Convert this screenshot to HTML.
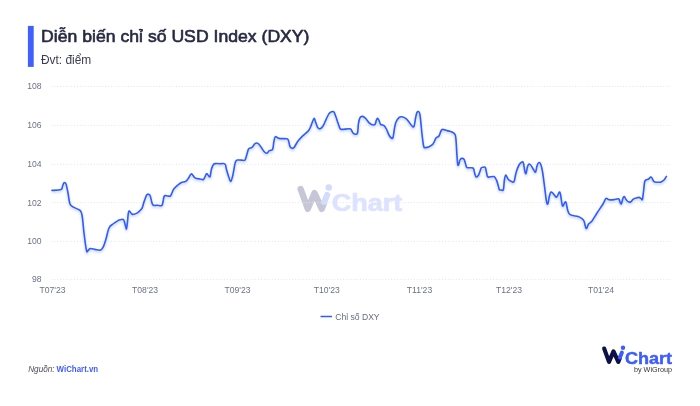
<!DOCTYPE html>
<html><head><meta charset="utf-8"><title>USD Index</title>
<style>
html,body{margin:0;padding:0;background:#fff;}
body{width:700px;height:406px;overflow:hidden;font-family:"Liberation Sans",sans-serif;}
svg{display:block;font-family:"Liberation Sans",sans-serif;will-change:transform;opacity:0.999;}
</style></head><body>
<svg width="700" height="406" viewBox="0 0 700 406">
<defs>
<filter id="glow" x="-5%" y="-20%" width="110%" height="150%"><feGaussianBlur stdDeviation="1.2"/></filter>
</defs>
<rect x="27.9" y="25.9" width="5.8" height="41" fill="#3f5fff"/>
<text x="41.1" y="42.3" font-size="17.3" fill="#262a42" stroke="#262a42" stroke-width="0.62" stroke-linejoin="round" textLength="268.4" lengthAdjust="spacingAndGlyphs">Diễn biến chỉ số USD Index (DXY)</text>
<text x="41" y="64.2" font-size="11.9" fill="#3a3d50">Đvt: điểm</text>
<g transform="translate(294.3,176.6) scale(1.5)">
<path d="M4.2,8.2 L9,21.5 L13.5,11 L18.3,21.5 L19.9,17.3" fill="none" stroke="#c6c7d6" stroke-width="4.2" stroke-linecap="round" stroke-linejoin="round"/>
<path d="M19.9,17 L21.9,12.2" fill="none" stroke="#d3dbff" stroke-width="4" stroke-linecap="round"/>
<circle cx="23" cy="7.3" r="2.2" fill="#d3dbff"/>
<text x="24.9" y="23.2" font-size="16" font-weight="bold" textLength="47.1" lengthAdjust="spacingAndGlyphs" fill="#dde3ff" stroke="#dde3ff" stroke-width="0.45" stroke-linejoin="round">Chart</text>
</g>
<g stroke="#e2e4ea" stroke-width="1" stroke-dasharray="1 1.83"><line x1="51.5" x2="671.5" y1="86.4" y2="86.4"/><line x1="51.5" x2="671.5" y1="125.4" y2="125.4"/><line x1="51.5" x2="671.5" y1="164.4" y2="164.4"/><line x1="51.5" x2="671.5" y1="202.6" y2="202.6"/><line x1="51.5" x2="671.5" y1="241.4" y2="241.4"/><line x1="51.5" x2="671.5" y1="279.4" y2="279.4"/></g>
<g font-size="8.6" fill="#6b7389"><text x="41.5" y="89.4" text-anchor="end">108</text><text x="41.5" y="128.4" text-anchor="end">106</text><text x="41.5" y="167.4" text-anchor="end">104</text><text x="41.5" y="205.6" text-anchor="end">102</text><text x="41.5" y="244.4" text-anchor="end">100</text><text x="41.5" y="282.4" text-anchor="end">98</text><text x="52.5" y="292.8" text-anchor="middle">T07'23</text><text x="145.1" y="292.8" text-anchor="middle">T08'23</text><text x="237.5" y="292.8" text-anchor="middle">T09'23</text><text x="326.8" y="292.8" text-anchor="middle">T10'23</text><text x="419.5" y="292.8" text-anchor="middle">T11'23</text><text x="509.0" y="292.8" text-anchor="middle">T12'23</text><text x="601.0" y="292.8" text-anchor="middle">T01'24</text></g>
<path d="M52.0,190.4C53.5,190.3 59.2,190.3 61.0,189.6C62.8,188.9 62.1,187.1 62.6,186.0C63.1,184.9 63.4,183.1 64.0,182.8C64.6,182.5 65.3,182.3 66.0,184.0C66.7,185.7 67.3,189.7 68.0,193.0C68.7,196.3 69.0,201.6 70.0,204.0C71.0,206.4 72.3,206.3 74.0,207.4C75.7,208.5 78.7,209.1 80.0,210.4C81.3,211.7 81.3,211.2 82.0,215.0C82.7,218.8 83.3,227.2 84.0,233.0C84.7,238.8 85.8,247.0 86.4,250.0C87.0,253.0 87.0,251.4 87.6,251.2C88.2,251.0 88.8,248.9 90.0,248.6C91.2,248.3 93.3,249.1 95.0,249.4C96.7,249.7 98.7,250.5 100.0,250.2C101.3,249.9 102.0,249.3 103.0,247.4C104.0,245.5 105.0,242.2 106.0,239.0C107.0,235.8 107.8,230.5 109.0,228.0C110.2,225.5 111.5,225.2 113.0,224.0C114.5,222.8 116.7,221.3 118.0,220.6C119.3,219.9 119.9,219.9 120.8,219.7C121.7,219.5 122.8,219.1 123.5,219.6C124.2,220.1 124.3,221.6 124.7,222.9C125.1,224.2 125.6,226.6 125.9,227.6C126.2,228.6 126.3,229.5 126.5,228.8C126.7,228.2 127.0,226.0 127.3,223.7C127.6,221.4 127.9,217.0 128.1,215.0C128.3,213.0 128.5,212.5 128.7,211.8C128.9,211.1 129.1,210.9 129.4,211.0C129.7,211.1 130.1,212.0 130.6,212.5C131.1,213.0 131.6,213.9 132.2,214.2C132.8,214.5 133.5,214.3 134.2,214.2C134.9,214.1 135.7,213.8 136.5,213.4C137.3,213.0 138.1,212.4 138.9,211.7C139.7,211.0 140.7,210.1 141.3,209.3C141.9,208.5 142.1,208.1 142.5,207.1C142.9,206.1 143.2,204.4 143.6,203.2C144.0,202.0 144.1,201.4 144.7,200.0C145.3,198.6 146.1,195.4 147.0,194.6C147.9,193.8 149.2,194.0 150.0,195.4C150.8,196.8 151.4,201.3 152.0,203.0C152.6,204.7 152.5,204.9 153.4,205.3C154.3,205.7 156.1,205.3 157.5,205.3C158.9,205.3 160.9,206.6 162.0,205.2C163.1,203.8 163.4,198.2 164.0,196.6C164.6,195.0 164.7,195.7 165.4,195.6C166.1,195.5 167.1,196.0 168.0,196.0C168.9,196.0 169.8,196.8 170.7,195.7C171.6,194.6 172.4,191.1 173.6,189.3C174.8,187.5 176.6,186.2 177.9,185.0C179.2,183.8 180.1,183.0 181.4,182.4C182.7,181.8 184.5,182.2 185.7,181.4C186.9,180.7 187.6,179.2 188.6,177.9C189.6,176.7 190.3,173.9 191.4,173.9C192.5,173.9 193.6,177.1 195.0,177.9C196.4,178.8 198.6,178.8 200.0,179.0C201.4,179.2 202.5,180.2 203.6,179.3C204.7,178.5 205.7,174.6 206.4,173.9C207.1,173.2 207.4,174.5 208.0,175.0C208.6,175.5 209.4,177.6 210.0,176.7C210.6,175.8 210.8,171.4 211.4,169.3C212.0,167.2 212.9,165.2 213.6,164.3C214.3,163.4 214.6,163.7 215.7,163.6C216.8,163.5 218.4,163.6 220.0,163.7C221.6,163.8 223.9,163.1 225.0,164.0C226.1,164.9 225.8,167.2 226.4,169.3C227.0,171.4 227.9,174.4 228.6,176.4C229.3,178.4 230.0,181.6 230.7,181.4C231.4,181.2 232.2,178.0 232.9,175.0C233.6,172.0 234.4,166.0 235.0,163.6C235.6,161.2 235.9,161.0 236.4,160.4C236.9,159.8 237.2,160.1 238.0,160.0C238.8,159.9 240.3,160.1 241.5,160.1C242.7,160.1 244.1,161.0 245.0,160.0C245.9,159.0 246.4,155.8 247.0,154.0C247.6,152.2 247.8,150.1 248.6,149.0C249.4,147.9 250.9,148.3 252.0,147.4C253.1,146.5 254.0,144.3 255.0,143.6C256.0,142.9 257.0,142.8 258.0,143.4C259.0,144.0 260.0,145.7 261.0,147.0C262.0,148.3 263.1,150.4 264.0,151.4C264.9,152.4 265.7,153.3 266.6,153.2C267.5,153.1 268.4,151.2 269.4,150.6C270.4,150.0 271.8,151.0 272.6,149.4C273.4,147.8 273.5,143.1 274.0,141.0C274.5,138.9 274.6,137.0 275.4,136.6C276.2,136.2 277.1,138.0 279.0,138.4C280.9,138.8 285.4,138.4 287.0,138.8C288.6,139.2 288.1,139.7 288.6,141.0C289.1,142.3 289.4,145.4 290.0,146.6C290.6,147.8 291.3,148.0 292.0,148.2C292.7,148.4 293.0,148.8 294.0,147.6C295.0,146.4 296.5,143.0 298.0,141.0C299.5,139.0 301.2,137.4 303.0,135.6C304.8,133.8 307.5,132.1 309.0,130.0C310.5,127.9 311.2,124.9 312.0,123.0C312.8,121.1 313.4,118.6 314.0,118.4C314.6,118.2 315.0,120.5 315.6,122.0C316.2,123.5 316.9,126.3 317.6,127.4C318.3,128.5 319.1,129.0 320.0,128.8C320.9,128.6 322.0,127.5 323.0,126.0C324.0,124.5 325.0,121.7 326.0,119.6C327.0,117.5 328.1,114.9 329.0,113.6C329.9,112.3 330.8,112.0 331.6,111.7C332.4,111.4 333.3,111.1 334.0,112.0C334.7,112.9 335.3,115.2 336.0,117.0C336.7,118.8 337.3,121.1 338.0,123.0C338.7,124.9 339.3,127.3 340.0,128.4C340.7,129.5 340.3,129.3 342.0,129.4C343.7,129.5 348.3,128.4 350.0,128.8C351.7,129.2 351.7,131.2 352.4,132.0C353.1,132.8 353.2,133.6 354.0,133.8C354.8,134.0 356.7,135.0 357.4,133.4C358.1,131.8 358.0,126.6 358.4,124.0C358.8,121.4 359.3,118.9 360.0,117.6C360.7,116.3 361.7,116.3 362.6,116.4C363.5,116.5 364.5,117.4 365.6,118.4C366.7,119.4 368.0,121.6 369.0,122.6C370.0,123.6 370.6,124.3 371.6,124.6C372.6,124.9 374.2,125.2 375.0,124.4C375.8,123.6 376.0,121.0 376.4,120.0C376.8,119.0 377.2,118.3 377.6,118.4C378.0,118.5 378.5,119.4 379.0,120.4C379.5,121.4 379.8,123.5 380.6,124.4C381.4,125.3 383.0,124.8 384.0,125.6C385.0,126.4 385.6,127.4 386.4,129.0C387.2,130.6 388.2,133.5 389.0,135.0C389.8,136.5 390.7,137.6 391.4,138.0C392.1,138.4 392.5,139.1 393.0,137.6C393.5,136.1 393.9,131.6 394.4,129.0C394.9,126.4 395.2,123.9 396.0,122.0C396.8,120.1 398.0,118.5 399.0,117.6C400.0,116.7 400.8,116.6 402.0,116.8C403.2,117.0 404.8,117.7 406.0,118.6C407.2,119.5 408.0,120.8 409.0,122.0C410.0,123.2 411.2,125.3 412.0,126.0C412.8,126.7 413.4,127.7 414.0,126.4C414.6,125.1 415.1,120.3 415.6,118.0C416.1,115.7 416.5,113.5 417.0,112.4C417.5,111.4 418.1,111.3 418.6,111.7C419.1,112.1 419.4,111.3 420.0,115.0C420.6,118.7 421.4,128.8 422.0,134.0C422.6,139.2 423.1,143.7 423.6,146.0C424.1,148.3 424.1,147.5 425.0,147.6C425.9,147.7 427.7,147.4 429.0,146.8C430.3,146.2 431.8,145.5 433.0,144.0C434.2,142.5 435.0,139.3 436.0,138.0C437.0,136.7 438.2,137.2 439.0,136.0C439.8,134.8 440.4,132.1 441.0,131.0C441.6,129.9 441.6,129.5 442.6,129.4C443.6,129.3 445.4,130.2 447.0,130.6C448.6,131.0 450.7,131.4 452.0,132.0C453.3,132.6 454.3,133.1 455.0,134.4C455.7,135.7 455.7,136.4 456.0,140.0C456.3,143.6 456.7,151.8 457.0,156.0C457.3,160.2 457.5,164.7 458.0,165.4C458.5,166.1 459.4,161.2 460.0,160.0C460.6,158.8 460.9,158.5 461.6,158.4C462.3,158.3 463.3,158.3 464.0,159.2C464.7,160.1 465.1,162.6 465.6,164.0C466.1,165.4 465.8,166.9 467.0,167.6C468.2,168.3 471.7,167.1 473.0,168.0C474.3,168.9 474.1,171.5 474.6,173.0C475.1,174.5 475.5,176.7 476.2,177.0C476.9,177.3 477.9,176.2 478.6,175.0C479.3,173.8 480.1,170.8 480.6,169.5C481.1,168.2 481.1,167.9 481.6,167.5C482.1,167.1 482.9,167.2 483.5,167.2C484.1,167.2 484.9,166.5 485.4,167.5C485.9,168.5 486.2,171.4 486.6,173.0C487.0,174.6 486.8,176.4 488.0,177.0C489.2,177.6 492.6,176.0 494.0,176.6C495.4,177.2 495.8,178.7 496.6,180.4C497.4,182.1 498.1,185.4 498.6,187.0C499.1,188.6 498.9,189.2 499.4,189.7C499.9,190.2 500.8,190.0 501.5,190.0C502.2,190.0 502.9,191.2 503.4,189.5C503.9,187.8 504.0,182.4 504.4,180.0C504.8,177.6 505.2,175.2 505.8,175.0C506.4,174.8 507.1,178.0 508.0,179.0C508.9,180.0 510.0,180.8 511.0,181.2C512.0,181.6 513.2,183.0 514.0,181.6C514.8,180.2 515.2,175.8 516.0,173.0C516.8,170.2 518.0,166.8 519.0,165.0C520.0,163.2 521.3,162.3 522.0,162.0C522.7,161.7 523.0,161.7 523.4,163.0C523.8,164.3 524.2,168.2 524.6,170.0C525.0,171.8 525.5,174.1 526.0,173.6C526.5,173.1 526.9,168.6 527.4,167.0C527.9,165.4 528.4,164.3 529.0,164.0C529.6,163.7 530.2,164.3 531.0,165.4C531.8,166.5 533.2,169.3 534.0,170.4C534.8,171.5 535.1,172.7 535.6,172.0C536.1,171.3 536.5,167.6 537.0,166.0C537.5,164.4 538.0,162.9 538.6,162.6C539.2,162.3 540.0,162.6 540.6,164.0C541.2,165.4 541.7,167.2 542.4,171.0C543.1,174.8 543.9,181.8 544.6,187.0C545.3,192.2 546.0,199.3 546.6,202.0C547.2,204.7 547.5,204.4 548.0,203.4C548.5,202.4 548.9,197.9 549.4,196.0C549.9,194.1 550.4,192.4 551.0,192.0C551.6,191.6 552.2,192.6 553.0,193.4C553.8,194.2 555.3,196.6 556.0,197.0C556.7,197.4 556.8,196.8 557.4,196.0C558.0,195.2 558.9,192.2 559.4,192.0C559.9,191.8 560.2,193.0 560.6,195.0C561.0,197.0 561.6,202.2 562.0,204.0C562.4,205.8 562.5,206.3 563.0,206.0C563.5,205.7 564.5,202.5 565.0,202.0C565.5,201.5 565.8,201.7 566.2,203.0C566.6,204.3 567.1,208.2 567.6,210.0C568.1,211.8 568.5,213.1 569.4,214.0C570.3,214.9 571.6,215.2 573.0,215.6C574.4,216.0 576.5,216.1 578.0,216.6C579.5,217.1 581.0,217.9 582.0,218.6C583.0,219.3 583.4,219.7 584.0,221.0C584.6,222.3 585.0,225.4 585.4,226.6C585.8,227.8 586.1,228.8 586.6,228.4C587.1,228.0 587.7,225.2 588.6,224.0C589.5,222.8 590.6,222.8 592.0,221.0C593.4,219.2 595.2,215.8 597.0,213.0C598.8,210.2 601.5,206.4 603.0,204.0C604.5,201.6 605.0,199.1 606.0,198.4C607.0,197.7 607.7,199.6 609.0,199.8C610.3,200.0 612.4,199.8 614.0,199.6C615.6,199.4 617.6,198.4 618.6,198.8C619.6,199.2 619.5,201.2 620.0,202.0C620.5,202.8 620.9,204.5 621.4,203.8C621.9,203.1 622.5,199.2 623.0,198.0C623.5,196.8 623.7,196.4 624.2,196.6C624.7,196.8 625.4,198.6 626.0,199.4C626.6,200.2 627.2,201.2 628.0,201.6C628.8,202.0 629.8,202.4 630.6,202.0C631.4,201.6 632.1,200.1 633.0,199.4C633.9,198.7 635.0,198.3 636.0,198.0C637.0,197.7 638.2,197.3 639.0,197.4C639.8,197.5 640.4,198.3 641.0,198.6C641.6,198.9 642.0,200.7 642.4,199.4C642.8,198.1 643.2,193.9 643.6,191.0C644.0,188.1 644.2,183.8 644.6,182.0C645.0,180.2 645.3,180.5 646.0,180.0C646.7,179.5 647.8,179.5 648.6,179.0C649.4,178.5 650.0,177.2 650.6,177.0C651.2,176.8 651.5,177.3 652.0,178.0C652.5,178.7 652.9,180.3 653.4,181.0C653.9,181.7 654.2,181.8 655.0,182.0C655.8,182.2 657.0,182.2 658.0,182.2C659.0,182.2 660.0,182.4 661.0,182.0C662.0,181.6 663.1,180.9 664.0,180.0C664.9,179.1 666.0,177.0 666.4,176.4" fill="none" stroke="#9db4ff" stroke-width="2.5" opacity="0.45" filter="url(#glow)" transform="translate(0,1.5)"/>
<path d="M52.0,190.4C53.5,190.3 59.2,190.3 61.0,189.6C62.8,188.9 62.1,187.1 62.6,186.0C63.1,184.9 63.4,183.1 64.0,182.8C64.6,182.5 65.3,182.3 66.0,184.0C66.7,185.7 67.3,189.7 68.0,193.0C68.7,196.3 69.0,201.6 70.0,204.0C71.0,206.4 72.3,206.3 74.0,207.4C75.7,208.5 78.7,209.1 80.0,210.4C81.3,211.7 81.3,211.2 82.0,215.0C82.7,218.8 83.3,227.2 84.0,233.0C84.7,238.8 85.8,247.0 86.4,250.0C87.0,253.0 87.0,251.4 87.6,251.2C88.2,251.0 88.8,248.9 90.0,248.6C91.2,248.3 93.3,249.1 95.0,249.4C96.7,249.7 98.7,250.5 100.0,250.2C101.3,249.9 102.0,249.3 103.0,247.4C104.0,245.5 105.0,242.2 106.0,239.0C107.0,235.8 107.8,230.5 109.0,228.0C110.2,225.5 111.5,225.2 113.0,224.0C114.5,222.8 116.7,221.3 118.0,220.6C119.3,219.9 119.9,219.9 120.8,219.7C121.7,219.5 122.8,219.1 123.5,219.6C124.2,220.1 124.3,221.6 124.7,222.9C125.1,224.2 125.6,226.6 125.9,227.6C126.2,228.6 126.3,229.5 126.5,228.8C126.7,228.2 127.0,226.0 127.3,223.7C127.6,221.4 127.9,217.0 128.1,215.0C128.3,213.0 128.5,212.5 128.7,211.8C128.9,211.1 129.1,210.9 129.4,211.0C129.7,211.1 130.1,212.0 130.6,212.5C131.1,213.0 131.6,213.9 132.2,214.2C132.8,214.5 133.5,214.3 134.2,214.2C134.9,214.1 135.7,213.8 136.5,213.4C137.3,213.0 138.1,212.4 138.9,211.7C139.7,211.0 140.7,210.1 141.3,209.3C141.9,208.5 142.1,208.1 142.5,207.1C142.9,206.1 143.2,204.4 143.6,203.2C144.0,202.0 144.1,201.4 144.7,200.0C145.3,198.6 146.1,195.4 147.0,194.6C147.9,193.8 149.2,194.0 150.0,195.4C150.8,196.8 151.4,201.3 152.0,203.0C152.6,204.7 152.5,204.9 153.4,205.3C154.3,205.7 156.1,205.3 157.5,205.3C158.9,205.3 160.9,206.6 162.0,205.2C163.1,203.8 163.4,198.2 164.0,196.6C164.6,195.0 164.7,195.7 165.4,195.6C166.1,195.5 167.1,196.0 168.0,196.0C168.9,196.0 169.8,196.8 170.7,195.7C171.6,194.6 172.4,191.1 173.6,189.3C174.8,187.5 176.6,186.2 177.9,185.0C179.2,183.8 180.1,183.0 181.4,182.4C182.7,181.8 184.5,182.2 185.7,181.4C186.9,180.7 187.6,179.2 188.6,177.9C189.6,176.7 190.3,173.9 191.4,173.9C192.5,173.9 193.6,177.1 195.0,177.9C196.4,178.8 198.6,178.8 200.0,179.0C201.4,179.2 202.5,180.2 203.6,179.3C204.7,178.5 205.7,174.6 206.4,173.9C207.1,173.2 207.4,174.5 208.0,175.0C208.6,175.5 209.4,177.6 210.0,176.7C210.6,175.8 210.8,171.4 211.4,169.3C212.0,167.2 212.9,165.2 213.6,164.3C214.3,163.4 214.6,163.7 215.7,163.6C216.8,163.5 218.4,163.6 220.0,163.7C221.6,163.8 223.9,163.1 225.0,164.0C226.1,164.9 225.8,167.2 226.4,169.3C227.0,171.4 227.9,174.4 228.6,176.4C229.3,178.4 230.0,181.6 230.7,181.4C231.4,181.2 232.2,178.0 232.9,175.0C233.6,172.0 234.4,166.0 235.0,163.6C235.6,161.2 235.9,161.0 236.4,160.4C236.9,159.8 237.2,160.1 238.0,160.0C238.8,159.9 240.3,160.1 241.5,160.1C242.7,160.1 244.1,161.0 245.0,160.0C245.9,159.0 246.4,155.8 247.0,154.0C247.6,152.2 247.8,150.1 248.6,149.0C249.4,147.9 250.9,148.3 252.0,147.4C253.1,146.5 254.0,144.3 255.0,143.6C256.0,142.9 257.0,142.8 258.0,143.4C259.0,144.0 260.0,145.7 261.0,147.0C262.0,148.3 263.1,150.4 264.0,151.4C264.9,152.4 265.7,153.3 266.6,153.2C267.5,153.1 268.4,151.2 269.4,150.6C270.4,150.0 271.8,151.0 272.6,149.4C273.4,147.8 273.5,143.1 274.0,141.0C274.5,138.9 274.6,137.0 275.4,136.6C276.2,136.2 277.1,138.0 279.0,138.4C280.9,138.8 285.4,138.4 287.0,138.8C288.6,139.2 288.1,139.7 288.6,141.0C289.1,142.3 289.4,145.4 290.0,146.6C290.6,147.8 291.3,148.0 292.0,148.2C292.7,148.4 293.0,148.8 294.0,147.6C295.0,146.4 296.5,143.0 298.0,141.0C299.5,139.0 301.2,137.4 303.0,135.6C304.8,133.8 307.5,132.1 309.0,130.0C310.5,127.9 311.2,124.9 312.0,123.0C312.8,121.1 313.4,118.6 314.0,118.4C314.6,118.2 315.0,120.5 315.6,122.0C316.2,123.5 316.9,126.3 317.6,127.4C318.3,128.5 319.1,129.0 320.0,128.8C320.9,128.6 322.0,127.5 323.0,126.0C324.0,124.5 325.0,121.7 326.0,119.6C327.0,117.5 328.1,114.9 329.0,113.6C329.9,112.3 330.8,112.0 331.6,111.7C332.4,111.4 333.3,111.1 334.0,112.0C334.7,112.9 335.3,115.2 336.0,117.0C336.7,118.8 337.3,121.1 338.0,123.0C338.7,124.9 339.3,127.3 340.0,128.4C340.7,129.5 340.3,129.3 342.0,129.4C343.7,129.5 348.3,128.4 350.0,128.8C351.7,129.2 351.7,131.2 352.4,132.0C353.1,132.8 353.2,133.6 354.0,133.8C354.8,134.0 356.7,135.0 357.4,133.4C358.1,131.8 358.0,126.6 358.4,124.0C358.8,121.4 359.3,118.9 360.0,117.6C360.7,116.3 361.7,116.3 362.6,116.4C363.5,116.5 364.5,117.4 365.6,118.4C366.7,119.4 368.0,121.6 369.0,122.6C370.0,123.6 370.6,124.3 371.6,124.6C372.6,124.9 374.2,125.2 375.0,124.4C375.8,123.6 376.0,121.0 376.4,120.0C376.8,119.0 377.2,118.3 377.6,118.4C378.0,118.5 378.5,119.4 379.0,120.4C379.5,121.4 379.8,123.5 380.6,124.4C381.4,125.3 383.0,124.8 384.0,125.6C385.0,126.4 385.6,127.4 386.4,129.0C387.2,130.6 388.2,133.5 389.0,135.0C389.8,136.5 390.7,137.6 391.4,138.0C392.1,138.4 392.5,139.1 393.0,137.6C393.5,136.1 393.9,131.6 394.4,129.0C394.9,126.4 395.2,123.9 396.0,122.0C396.8,120.1 398.0,118.5 399.0,117.6C400.0,116.7 400.8,116.6 402.0,116.8C403.2,117.0 404.8,117.7 406.0,118.6C407.2,119.5 408.0,120.8 409.0,122.0C410.0,123.2 411.2,125.3 412.0,126.0C412.8,126.7 413.4,127.7 414.0,126.4C414.6,125.1 415.1,120.3 415.6,118.0C416.1,115.7 416.5,113.5 417.0,112.4C417.5,111.4 418.1,111.3 418.6,111.7C419.1,112.1 419.4,111.3 420.0,115.0C420.6,118.7 421.4,128.8 422.0,134.0C422.6,139.2 423.1,143.7 423.6,146.0C424.1,148.3 424.1,147.5 425.0,147.6C425.9,147.7 427.7,147.4 429.0,146.8C430.3,146.2 431.8,145.5 433.0,144.0C434.2,142.5 435.0,139.3 436.0,138.0C437.0,136.7 438.2,137.2 439.0,136.0C439.8,134.8 440.4,132.1 441.0,131.0C441.6,129.9 441.6,129.5 442.6,129.4C443.6,129.3 445.4,130.2 447.0,130.6C448.6,131.0 450.7,131.4 452.0,132.0C453.3,132.6 454.3,133.1 455.0,134.4C455.7,135.7 455.7,136.4 456.0,140.0C456.3,143.6 456.7,151.8 457.0,156.0C457.3,160.2 457.5,164.7 458.0,165.4C458.5,166.1 459.4,161.2 460.0,160.0C460.6,158.8 460.9,158.5 461.6,158.4C462.3,158.3 463.3,158.3 464.0,159.2C464.7,160.1 465.1,162.6 465.6,164.0C466.1,165.4 465.8,166.9 467.0,167.6C468.2,168.3 471.7,167.1 473.0,168.0C474.3,168.9 474.1,171.5 474.6,173.0C475.1,174.5 475.5,176.7 476.2,177.0C476.9,177.3 477.9,176.2 478.6,175.0C479.3,173.8 480.1,170.8 480.6,169.5C481.1,168.2 481.1,167.9 481.6,167.5C482.1,167.1 482.9,167.2 483.5,167.2C484.1,167.2 484.9,166.5 485.4,167.5C485.9,168.5 486.2,171.4 486.6,173.0C487.0,174.6 486.8,176.4 488.0,177.0C489.2,177.6 492.6,176.0 494.0,176.6C495.4,177.2 495.8,178.7 496.6,180.4C497.4,182.1 498.1,185.4 498.6,187.0C499.1,188.6 498.9,189.2 499.4,189.7C499.9,190.2 500.8,190.0 501.5,190.0C502.2,190.0 502.9,191.2 503.4,189.5C503.9,187.8 504.0,182.4 504.4,180.0C504.8,177.6 505.2,175.2 505.8,175.0C506.4,174.8 507.1,178.0 508.0,179.0C508.9,180.0 510.0,180.8 511.0,181.2C512.0,181.6 513.2,183.0 514.0,181.6C514.8,180.2 515.2,175.8 516.0,173.0C516.8,170.2 518.0,166.8 519.0,165.0C520.0,163.2 521.3,162.3 522.0,162.0C522.7,161.7 523.0,161.7 523.4,163.0C523.8,164.3 524.2,168.2 524.6,170.0C525.0,171.8 525.5,174.1 526.0,173.6C526.5,173.1 526.9,168.6 527.4,167.0C527.9,165.4 528.4,164.3 529.0,164.0C529.6,163.7 530.2,164.3 531.0,165.4C531.8,166.5 533.2,169.3 534.0,170.4C534.8,171.5 535.1,172.7 535.6,172.0C536.1,171.3 536.5,167.6 537.0,166.0C537.5,164.4 538.0,162.9 538.6,162.6C539.2,162.3 540.0,162.6 540.6,164.0C541.2,165.4 541.7,167.2 542.4,171.0C543.1,174.8 543.9,181.8 544.6,187.0C545.3,192.2 546.0,199.3 546.6,202.0C547.2,204.7 547.5,204.4 548.0,203.4C548.5,202.4 548.9,197.9 549.4,196.0C549.9,194.1 550.4,192.4 551.0,192.0C551.6,191.6 552.2,192.6 553.0,193.4C553.8,194.2 555.3,196.6 556.0,197.0C556.7,197.4 556.8,196.8 557.4,196.0C558.0,195.2 558.9,192.2 559.4,192.0C559.9,191.8 560.2,193.0 560.6,195.0C561.0,197.0 561.6,202.2 562.0,204.0C562.4,205.8 562.5,206.3 563.0,206.0C563.5,205.7 564.5,202.5 565.0,202.0C565.5,201.5 565.8,201.7 566.2,203.0C566.6,204.3 567.1,208.2 567.6,210.0C568.1,211.8 568.5,213.1 569.4,214.0C570.3,214.9 571.6,215.2 573.0,215.6C574.4,216.0 576.5,216.1 578.0,216.6C579.5,217.1 581.0,217.9 582.0,218.6C583.0,219.3 583.4,219.7 584.0,221.0C584.6,222.3 585.0,225.4 585.4,226.6C585.8,227.8 586.1,228.8 586.6,228.4C587.1,228.0 587.7,225.2 588.6,224.0C589.5,222.8 590.6,222.8 592.0,221.0C593.4,219.2 595.2,215.8 597.0,213.0C598.8,210.2 601.5,206.4 603.0,204.0C604.5,201.6 605.0,199.1 606.0,198.4C607.0,197.7 607.7,199.6 609.0,199.8C610.3,200.0 612.4,199.8 614.0,199.6C615.6,199.4 617.6,198.4 618.6,198.8C619.6,199.2 619.5,201.2 620.0,202.0C620.5,202.8 620.9,204.5 621.4,203.8C621.9,203.1 622.5,199.2 623.0,198.0C623.5,196.8 623.7,196.4 624.2,196.6C624.7,196.8 625.4,198.6 626.0,199.4C626.6,200.2 627.2,201.2 628.0,201.6C628.8,202.0 629.8,202.4 630.6,202.0C631.4,201.6 632.1,200.1 633.0,199.4C633.9,198.7 635.0,198.3 636.0,198.0C637.0,197.7 638.2,197.3 639.0,197.4C639.8,197.5 640.4,198.3 641.0,198.6C641.6,198.9 642.0,200.7 642.4,199.4C642.8,198.1 643.2,193.9 643.6,191.0C644.0,188.1 644.2,183.8 644.6,182.0C645.0,180.2 645.3,180.5 646.0,180.0C646.7,179.5 647.8,179.5 648.6,179.0C649.4,178.5 650.0,177.2 650.6,177.0C651.2,176.8 651.5,177.3 652.0,178.0C652.5,178.7 652.9,180.3 653.4,181.0C653.9,181.7 654.2,181.8 655.0,182.0C655.8,182.2 657.0,182.2 658.0,182.2C659.0,182.2 660.0,182.4 661.0,182.0C662.0,181.6 663.1,180.9 664.0,180.0C664.9,179.1 666.0,177.0 666.4,176.4" fill="none" stroke="#2f5bff" stroke-width="1.6" stroke-linejoin="round" stroke-linecap="round"/>
<line x1="320.5" x2="332" y1="316.5" y2="316.5" stroke="#2f5bff" stroke-width="1.5"/>
<text x="335.2" y="319.6" font-size="8.6" fill="#666c80">Chỉ số DXY</text>
<text x="28.2" y="372.1" font-size="8.3" font-style="italic" fill="#4a4d5e" textLength="26.4" lengthAdjust="spacingAndGlyphs">Nguồn:</text>
<text x="56.6" y="372.1" font-size="8.7" font-weight="bold" fill="#3d5cff" textLength="41.6" lengthAdjust="spacingAndGlyphs">WiChart.vn</text>
<g transform="translate(600,340.4)">
<path d="M4.2,8.2 L9,21.5 L13.5,11 L18.3,21.5 L19.9,17.3" fill="none" stroke="#0d1147" stroke-width="4.2" stroke-linecap="round" stroke-linejoin="round"/>
<path d="M19.9,17 L21.9,12.2" fill="none" stroke="#3d5cff" stroke-width="4" stroke-linecap="round"/>
<circle cx="23" cy="7.3" r="2.2" fill="#3d5cff"/>
<text x="24.9" y="23.2" font-size="16" font-weight="bold" textLength="47.1" lengthAdjust="spacingAndGlyphs" fill="#3d5cff" stroke="#3d5cff" stroke-width="0.45" stroke-linejoin="round">Chart</text>
</g>
<text x="634" y="371.9" font-size="6.8" fill="#333" textLength="38" lengthAdjust="spacingAndGlyphs">by WiGroup</text>
</svg>
</body></html>
